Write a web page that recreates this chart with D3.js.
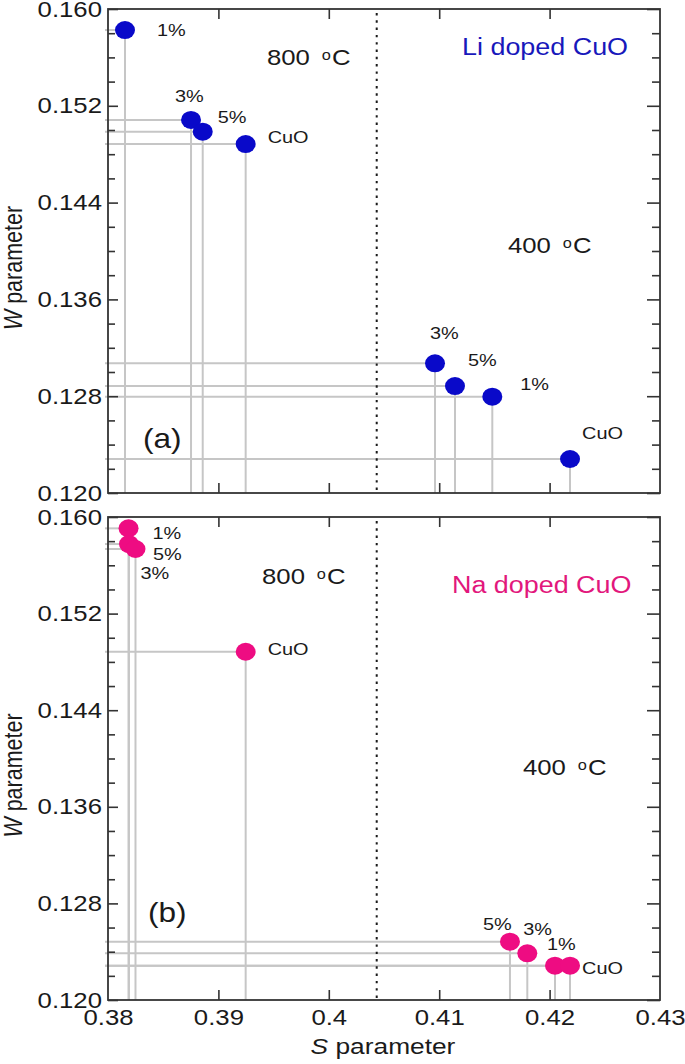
<!DOCTYPE html>
<html><head><meta charset="utf-8">
<script src="https://cdn.jsdelivr.net/npm/d3@7"></script>
<style>body{margin:0;background:#fff}svg{display:block}</style>
</head><body>
<script>
// ---------- data ----------
const xTickValues = [0.38, 0.39, 0.40, 0.41, 0.42, 0.43];
const xTickLabels = ["0.38", "0.39", "0.4", "0.41", "0.42", "0.43"];
const yTickValues = [0.120, 0.128, 0.136, 0.144, 0.152, 0.160];
const yTickLabels = ["0.120", "0.128", "0.136", "0.144", "0.152", "0.160"];
const yMinorStep = 0.002;
const dividerS = 0.40434;

const li800Labels = ["1%", "3%", "5%", "CuO"];
const li800S = [0.38154, 0.38752, 0.38858, 0.39247];
const li800W = [0.15826, 0.15083, 0.14986, 0.14884];
const li400Labels = ["3%", "5%", "1%", "CuO"];
const li400S = [0.40962, 0.41143, 0.41481, 0.42185];
const li400W = [0.13072, 0.12884, 0.12796, 0.12281];

const na800Labels = ["1%", "5%", "3%", "CuO"];
const na800S = [0.38186, 0.38190, 0.38249, 0.39247];
const na800W = [0.15906, 0.15776, 0.15735, 0.14884];
const na400Labels = ["5%", "3%", "1%", "CuO"];
const na400S = [0.41641, 0.41798, 0.42049, 0.42185];
const na400W = [0.12483, 0.12387, 0.12284, 0.12284];

// ---------- layout (not data) ----------
const W = 685, H = 1064;
const FONT = "'Liberation Sans', Arial, Helvetica, sans-serif";
const SX = 1.17; // horizontal stretch of the reference's text
const left = 108, right = 660;
const gridColor = "#c6c6c6";

const panels = [
  {
    top: 9, bottom: 493, color: "#0909c9", textColor: "#1818bb",
    title: "Li doped CuO", titlePos: [0.41207, 0.15686],
    tag: "(a)", tagPos: [0.38317, 0.12455],
    t800: [0.3944, 0.15603], t400: [0.41623, 0.14050],
    groups: [
      {labels: li800Labels, S: li800S, Wv: li800W, off: [[32,0],[-16,-24],[15,-15],[22,-7]]},
      {labels: li400Labels, S: li400S, Wv: li400W, off: [[-5,-30],[13,-26],[28,-13],[12,-26]]}
    ],
    xLabels: false
  },
  {
    top: 517, bottom: 1000, color: "#ee0c82", textColor: "#e2177c",
    title: "Na doped CuO", titlePos: [0.41116, 0.15437],
    tag: "(b)", tagPos: [0.38362, 0.12729],
    t800: [0.39395, 0.15511], t400: [0.41759, 0.13930],
    groups: [
      {labels: na800Labels, S: na800S, Wv: na800W, off: [[24,5],[24,10],[5,24],[22,-3]]},
      {labels: na400Labels, S: na400S, Wv: na400W, off: [[-27,-18],[-4,-24],[-8,-22],[12,2]]}
    ],
    xLabels: true
  }
];

const svg = d3.select("body").append("svg").attr("width", W).attr("height", H)
  .attr("font-family", FONT);

const x = d3.scaleLinear().domain([xTickValues[0], xTickValues[xTickValues.length - 1]]).range([left, right]);

function addText(g, px, py, str, size, color, anchor) {
  return g.append("text")
    .attr("transform", `translate(${px},${py}) scale(${SX},1)`)
    .attr("font-size", size).attr("fill", color || "#1a1a1a")
    .attr("text-anchor", anchor || "start").attr("dy", "0.36em")
    .text(str);
}
function addTemp(g, px, py, num) {
  const t = g.append("text")
    .attr("transform", `translate(${px},${py}) scale(${SX},1)`)
    .attr("font-size", 22).attr("fill", "#1a1a1a").attr("dy", "0.36em");
  t.append("tspan").text(num + " ");
  t.append("tspan").attr("font-size", 14).attr("dx", 4).attr("dy", -5).text("o");
  t.append("tspan").attr("dx", 1).attr("dy", 5).text("C");
}
function stretchAxisText(sel, dxPx) {
  sel.selectAll("text")
    .attr("font-size", 22).attr("fill", "#1a1a1a").attr("font-family", FONT)
    .attr("transform", `scale(${SX},1)`);
  if (dxPx !== undefined) sel.selectAll("text").attr("x", dxPx / SX);
}

const minorVals = d3.range(0, 21).map(i => +(0.120 + i * yMinorStep).toFixed(3))
  .filter(v => !yTickValues.some(t => Math.abs(t - v) < 1e-9));
const innerX = xTickValues.slice(1, -1);

panels.forEach((p, pi) => {
  const y = d3.scaleLinear().domain([yTickValues[0], yTickValues[yTickValues.length - 1]]).range([p.bottom, p.top]);
  const g = svg.append("g");

  // guide lines
  p.groups.forEach(gr => {
    gr.S.forEach((s, i) => {
      g.append("line").attr("x1", left - 3).attr("x2", x(s))
        .attr("y1", y(gr.Wv[i])).attr("y2", y(gr.Wv[i]))
        .attr("stroke", gridColor).attr("stroke-width", 2);
      g.append("line").attr("x1", x(s)).attr("x2", x(s))
        .attr("y1", y(gr.Wv[i])).attr("y2", p.bottom)
        .attr("stroke", gridColor).attr("stroke-width", 2);
    });
  });

  // dotted divider
  g.append("line").attr("x1", x(dividerS)).attr("x2", x(dividerS))
    .attr("y1", p.top + 4).attr("y2", p.bottom)
    .attr("stroke", "#1a1a1a").attr("stroke-width", 2).attr("stroke-dasharray", "2.4,4.9");

  // axes
  const ax = g.append("g").attr("color", "#333");
  ax.append("g").attr("transform", `translate(${left},0)`)
    .call(d3.axisLeft(y).tickValues(minorVals).tickSize(-7).tickFormat(""))
    .call(s => s.select(".domain").remove());
  const la = ax.append("g").attr("transform", `translate(${left},0)`)
    .call(d3.axisLeft(y).tickValues(yTickValues).tickSize(-10).tickPadding(6)
      .tickFormat((d, i) => yTickLabels[i]))
    .call(s => s.select(".domain").remove());
  stretchAxisText(la, -6);
  ax.append("g").attr("transform", `translate(${right},0)`)
    .call(d3.axisRight(y).tickValues(minorVals).tickSize(-8).tickFormat(""))
    .call(s => s.select(".domain").remove());
  ax.append("g").attr("transform", `translate(${right},0)`)
    .call(d3.axisRight(y).tickValues(yTickValues).tickSize(-13).tickFormat(""))
    .call(s => s.select(".domain").remove());
  ax.append("g").attr("transform", `translate(0,${p.bottom})`)
    .call(d3.axisBottom(x).tickValues(innerX).tickSize(-10).tickFormat(""))
    .call(s => s.select(".domain").remove());
  ax.append("g").attr("transform", `translate(0,${p.top})`)
    .call(d3.axisTop(x).tickValues(innerX).tickSize(-10).tickFormat(""))
    .call(s => s.select(".domain").remove());
  ax.selectAll(".tick line").attr("stroke", "#333").attr("stroke-width", 1.6);
  if (p.xLabels) {
    const ba = ax.append("g").attr("transform", `translate(0,${p.bottom})`)
      .call(d3.axisBottom(x).tickValues(xTickValues).tickSize(0).tickPadding(9.5)
        .tickFormat((d, i) => xTickLabels[i]))
      .call(s => s.select(".domain").remove());
    stretchAxisText(ba);
  }
  g.append("rect").attr("x", left).attr("y", p.top)
    .attr("width", right - left).attr("height", p.bottom - p.top)
    .attr("fill", "none").attr("stroke", "#333").attr("stroke-width", 1.8);

  // points
  p.groups.forEach(gr => {
    g.selectAll(null).data(gr.S).enter().append("ellipse")
      .attr("cx", d => x(d)).attr("cy", (d, i) => y(gr.Wv[i]))
      .attr("rx", 10).attr("ry", 9).attr("fill", p.color);
  });
  // point labels
  p.groups.forEach(gr => {
    gr.labels.forEach((lab, i) => {
      addText(g, x(gr.S[i]) + gr.off[i][0], y(gr.Wv[i]) + gr.off[i][1], lab, 17, "#1a1a1a");
    });
  });

  // annotations
  addTemp(g, x(p.t800[0]), y(p.t800[1]), "800");
  addTemp(g, x(p.t400[0]), y(p.t400[1]), "400");
  addText(g, x(p.titlePos[0]), y(p.titlePos[1]), p.title, 23, p.textColor);
  addText(g, x(p.tagPos[0]), y(p.tagPos[1]), p.tag, 27, "#1a1a1a");

  // y title
  const yt = g.append("text")
    .attr("transform", `translate(22,${(p.top + p.bottom) / 2 + 17}) scale(${SX},1) rotate(-90)`)
    .attr("font-size", 21.5).attr("fill", "#1a1a1a").attr("text-anchor", "middle");
  yt.append("tspan").attr("font-style", "italic").text("W");
  yt.append("tspan").text(" parameter");
});

// x title
const xt = svg.append("text")
  .attr("transform", `translate(383,1054) scale(${SX},1)`)
  .attr("font-size", 22.5).attr("fill", "#1a1a1a").attr("text-anchor", "middle");
xt.append("tspan").attr("font-style", "italic").text("S");
xt.append("tspan").text(" parameter");
</script>
</body></html>
